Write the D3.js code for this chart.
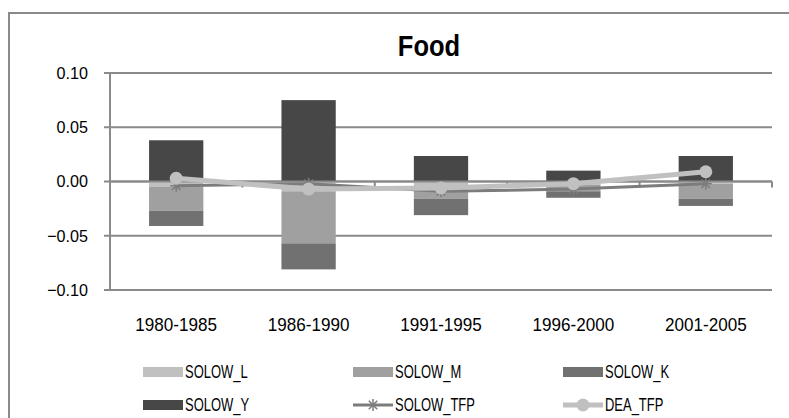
<!DOCTYPE html>
<html>
<head>
<meta charset="utf-8">
<script src="https://cdn.jsdelivr.net/npm/d3@7"></script>
<style>
  html, body { margin: 0; padding: 0; background: #fff; }
  svg { display: block; font-family: "Liberation Sans", Arial, sans-serif; }
</style>
</head>
<body>
<svg id="chart" width="789" height="418"></svg>
<script>
const categories = ["1980-1985", "1986-1990", "1991-1995", "1996-2000", "2001-2005"];
const SOLOW_L = [-0.005, -0.009, -0.004, -0.003, -0.002];
const SOLOW_M = [-0.022, -0.048, -0.012, -0.006, -0.014];
const SOLOW_K = [-0.014, -0.024, -0.015, -0.006, -0.0065];
const SOLOW_Y = [0.038, 0.075, 0.0235, 0.010, 0.0235];
const SOLOW_TFP = [-0.004, -0.002, -0.009, -0.007, -0.002];
const DEA_TFP = [0.003, -0.007, -0.006, -0.002, 0.009];
const yTicks = [0.10, 0.05, 0.00, -0.05, -0.10];
const title = "Food";

const barSeries = [
  { name: "SOLOW_L", values: SOLOW_L, color: "#c0c0c0" },
  { name: "SOLOW_M", values: SOLOW_M, color: "#a0a0a0" },
  { name: "SOLOW_K", values: SOLOW_K, color: "#717171" },
  { name: "SOLOW_Y", values: SOLOW_Y, color: "#474747" }
];
const lineSeries = [
  { name: "SOLOW_TFP", values: SOLOW_TFP, color: "#7c7c7c", width: 3, marker: "star" },
  { name: "DEA_TFP", values: DEA_TFP, color: "#c0c0c0", width: 5, marker: "circle" }
];

const svg = d3.select("#chart");
const gridColor = "#8a8a8a";

// condensed text helper
function ctext(g, tx, ty, str, size, sx, anchor, weight) {
  return g.append("text")
    .attr("transform", `translate(${tx},${ty}) scale(${sx},1)`)
    .attr("x", 0).attr("y", 0).attr("dy", "0.35em")
    .attr("text-anchor", anchor).attr("font-size", size)
    .attr("font-weight", weight || "normal").attr("fill", "#000")
    .text(str);
}

// outer border
svg.append("rect").attr("x", 9).attr("y", 13).attr("width", 800).attr("height", 420)
  .attr("fill", "none").attr("stroke", gridColor).attr("stroke-width", 2);

const plot = { left: 110, right: 772, top: 73, bottom: 290 };
const x = d3.scaleBand().domain(categories).range([plot.left, plot.right]).paddingInner(0.59).paddingOuter(0.295);
const xc = d3.scaleBand().domain(categories).range([plot.left, plot.right]);
const y = d3.scaleLinear().domain([-0.10, 0.10]).range([plot.bottom, plot.top]);

// gridlines
svg.append("g").selectAll("line").data(yTicks).join("line")
  .attr("x1", plot.left - 6).attr("x2", plot.right)
  .attr("y1", d => y(d)).attr("y2", d => y(d))
  .attr("stroke", gridColor).attr("stroke-width", 2);

// y axis line
svg.append("line").attr("x1", plot.left).attr("x2", plot.left)
  .attr("y1", plot.top).attr("y2", plot.bottom)
  .attr("stroke", gridColor).attr("stroke-width", 2);

// y labels
const yl = svg.append("g");
yTicks.forEach(d => ctext(yl, 88, y(d), d3.format(".2f")(d), 17, 0.95, "end"));

// bars: stacked positives and negatives separately
categories.forEach((c, i) => {
  let pos = 0, neg = 0;
  barSeries.forEach(s => {
    const v = s.values[i];
    let y0, y1;
    if (v >= 0) { y0 = pos; y1 = pos + v; pos = y1; }
    else { y0 = neg; y1 = neg + v; neg = y1; }
    svg.append("rect")
      .attr("x", x(c)).attr("width", x.bandwidth())
      .attr("y", y(Math.max(y0, y1)))
      .attr("height", Math.abs(y(y0) - y(y1)))
      .attr("fill", s.color);
  });
});

// x axis at zero with ticks at category boundaries
svg.append("line").attr("x1", plot.left).attr("x2", plot.right)
  .attr("y1", y(0)).attr("y2", y(0))
  .attr("stroke", gridColor).attr("stroke-width", 2);
const bounds = categories.map(c => xc(c)).concat([plot.right]);
svg.append("g").selectAll("line").data(bounds).join("line")
  .attr("x1", d => d).attr("x2", d => d)
  .attr("y1", y(0)).attr("y2", y(0) + 6)
  .attr("stroke", gridColor).attr("stroke-width", 2);

// x labels
const xl = svg.append("g");
categories.forEach(c => ctext(xl, xc(c) + xc.bandwidth() / 2, 325, c, 18, 0.95, "middle"));

function star(g, cx, cy, r, color) {
  for (let k = 0; k < 4; k++) {
    const a = k * Math.PI / 4;
    g.append("line")
      .attr("x1", cx - r * Math.cos(a)).attr("y1", cy - r * Math.sin(a))
      .attr("x2", cx + r * Math.cos(a)).attr("y2", cy + r * Math.sin(a))
      .attr("stroke", color).attr("stroke-width", 1.5);
  }
}

const line = d3.line().x((d, i) => xc(categories[i]) + xc.bandwidth() / 2).y(d => y(d));
lineSeries.forEach(s => {
  const g = svg.append("g");
  g.append("path").datum(s.values).attr("d", line)
    .attr("fill", "none").attr("stroke", s.color).attr("stroke-width", s.width)
    .attr("stroke-linejoin", "round");
  s.values.forEach((v, i) => {
    const cx = xc(categories[i]) + xc.bandwidth() / 2, cy = y(v);
    if (s.marker === "circle") {
      g.append("circle").attr("cx", cx).attr("cy", cy).attr("r", 6.5).attr("fill", s.color);
    } else {
      star(g, cx, cy, 6, s.color);
    }
  });
});

// title
ctext(svg, 429, 45, title, 30, 0.85, "middle", "bold");

// legend
const legendItems = [
  { s: barSeries[0], type: "bar" }, { s: barSeries[1], type: "bar" }, { s: barSeries[2], type: "bar" },
  { s: barSeries[3], type: "bar" }, { s: lineSeries[0], type: "line" }, { s: lineSeries[1], type: "line" }
];
const colX = [143, 353, 563];
const rowY = [372, 405];
legendItems.forEach((it, k) => {
  const lx = colX[k % 3], ly = rowY[Math.floor(k / 3)];
  const g = svg.append("g");
  if (it.type === "bar") {
    g.append("rect").attr("x", lx).attr("y", ly - 5).attr("width", 40).attr("height", 10).attr("fill", it.s.color);
  } else {
    g.append("line").attr("x1", lx).attr("x2", lx + 40).attr("y1", ly).attr("y2", ly)
      .attr("stroke", it.s.color).attr("stroke-width", it.s.width);
    if (it.s.marker === "circle") g.append("circle").attr("cx", lx + 20).attr("cy", ly).attr("r", 6.5).attr("fill", it.s.color);
    else star(g, lx + 20, ly, 6, it.s.color);
  }
  ctext(g, lx + 42, ly, it.s.name, 18, 0.72, "start");
});
</script>
</body>
</html>
